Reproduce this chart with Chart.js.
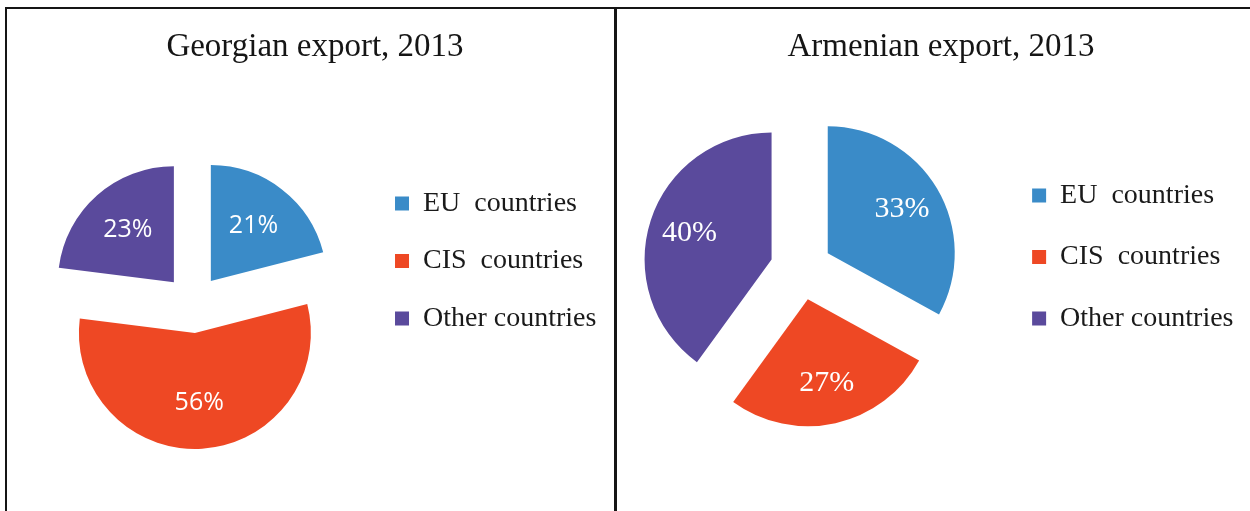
<!DOCTYPE html>
<html>
<head>
<meta charset="utf-8">
<title>Export 2013</title>
<script src="https://cdn.jsdelivr.net/npm/chart.js@4.4.1/dist/chart.umd.min.js"></script>
<style>
  html, body { margin: 0; padding: 0; background: #fff; overflow: hidden; width: 1250px; height: 511px; }
  .panel { position: absolute; top: 9px; height: 502px; }
  #georgiaPanel { left: 8px; width: 606px; }
  #armeniaPanel { left: 600px; width: 679px; }
  .rule { position: absolute; background: #151515; }
</style>
</head>
<body>
<div class="panel" id="georgiaPanel"><canvas id="georgiaChart"></canvas></div>
<div class="panel" id="armeniaPanel"><canvas id="armeniaChart"></canvas></div>
<div class="rule" style="left:5px; top:7px; width:1245px; height:2px;"></div>
<div class="rule" style="left:5px; top:7px; width:2px; height:504px;"></div>
<div class="rule" style="left:614px; top:7px; width:3px; height:504px;"></div>

<script>
// export shares by destination, %
const regions = ['EU  countries', 'CIS  countries', 'Other countries'];
const georgianShares = [21, 56, 23];
const armenianShares = [33, 27, 40];

const sliceColors = ['#3a8bc8', '#ee4824', '#5a4a9c'];

// pie whose slices are pulled out from the centre by a fixed distance
class ExplodedPieController extends Chart.PieController {
    draw() {
        const ctx = this.chart.ctx;
        const gap = this.getDataset().explode || 0;
        for (const arc of this._cachedMeta.data) {
            const mid = (arc.startAngle + arc.endAngle) / 2;
            ctx.save();
            ctx.translate(Math.cos(mid) * gap, Math.sin(mid) * gap);
            arc.draw(ctx);
            ctx.restore();
        }
    }
}
ExplodedPieController.id = 'explodedPie';
Chart.register(ExplodedPieController);

// percent labels inside the slices
const sliceLabels = {
    id: 'sliceLabels',
    afterDatasetsDraw(chart, args, opts) {
        const ctx = chart.ctx;
        const dataset = chart.data.datasets[0];
        const meta = chart.getDatasetMeta(0);
        ctx.save();
        ctx.font = opts.size + 'px ' + opts.family;
        ctx.fillStyle = opts.color;
        ctx.textAlign = 'center';
        ctx.textBaseline = 'middle';
        meta.data.forEach((arc, i) => {
            const mid = (arc.startAngle + arc.endAngle) / 2;
            const r = (dataset.explode || 0) + arc.outerRadius * opts.position;
            ctx.fillText(dataset.data[i] + '%', arc.x + Math.cos(mid) * r, arc.y + Math.sin(mid) * r);
        });
        ctx.restore();
    }
};

// extra room to the right of the legend text
const legendGap = {
    id: 'legendGap',
    afterInit(chart, args, opts) {
        const fit = chart.legend.fit;
        chart.legend.fit = function () {
            fit.call(this);
            this.width += opts.extra || 0;
        };
    }
};

function makeChart(canvasId, title, shares, s) {
    return new Chart(document.getElementById(canvasId), {
        type: 'explodedPie',
        data: {
            labels: regions,
            datasets: [{
                data: shares,
                backgroundColor: sliceColors,
                borderWidth: 0,
                explode: s.explode
            }]
        },
        options: {
            responsive: true,
            maintainAspectRatio: false,
            animation: false,
            radius: s.radius,
            layout: { padding: s.padding },
            plugins: {
                title: {
                    display: true,
                    text: title,
                    color: '#151515',
                    font: { family: 'Liberation Serif', size: 33, weight: 'normal' },
                    padding: s.titlePadding
                },
                legend: {
                    position: 'right',
                    labels: {
                        color: '#1a1a1a',
                        font: { family: 'Liberation Serif', size: 28 },
                        boxWidth: 14,
                        boxHeight: 14,
                        padding: s.legendSpacing
                    }
                },
                tooltip: { enabled: false },
                sliceLabels: s.labels,
                legendGap: { extra: s.legendExtra }
            }
        },
        plugins: [sliceLabels, legendGap]
    });
}

makeChart('georgiaChart', 'Georgian export, 2013', georgianShares, {
    explode: 29,
    radius: 116,
    padding: { left: 12.6, right: 4.6, top: 2, bottom: 0 },
    titlePadding: { top: 16.2, bottom: 30.2 },
    legendSpacing: 29.5,
    legendExtra: 3,
    labels: { family: '"Open Sans"', size: 25, color: '#fff', position: 0.6 }
});

makeChart('armeniaChart', 'Armenian export, 2013', armenianShares, {
    explode: 31,
    radius: 127,
    padding: { left: 3.5, right: 0.5, top: 0, bottom: 6 },
    titlePadding: { top: 18.2, bottom: -33.8 },
    legendSpacing: 33.5,
    legendExtra: 35,
    labels: { family: '"Liberation Serif"', size: 30, color: '#fff', position: 0.68 }
});
</script>
</body>
</html>
